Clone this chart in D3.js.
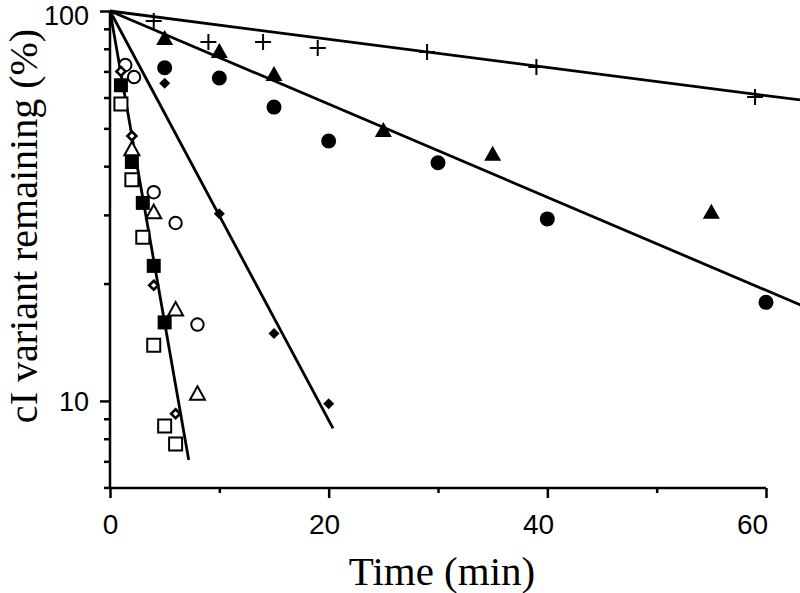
<!DOCTYPE html>
<html><head><meta charset="utf-8">
<script src="https://cdn.jsdelivr.net/npm/d3@7"></script>
<style>body{margin:0;background:#fff}svg{display:block}</style>
</head><body><svg id="c" width="800" height="593"></svg>
<script>
// ---- data (time in min, % remaining) ----
const plusT = [4, 9, 14, 19, 29, 39, 59];
const plusV = [94.3, 83.3, 83.3, 80.4, 78.5, 71.8, 60.2];
const triFillT = [5, 10, 15, 25, 35, 55];
const triFillV = [84.8, 78.5, 68.5, 49.2, 42.8, 30.4];
const circFillT = [5, 10, 15, 20, 30, 40, 60];
const circFillV = [71.5, 67.3, 56.7, 46.4, 40.8, 29.3, 17.9];
const diaFillT = [5, 10, 15, 20];
const diaFillV = [65.3, 30.2, 14.9, 9.83];
const sqOpenT = [1, 2, 3, 4, 5, 6];
const sqOpenV = [57.7, 36.9, 26.3, 13.9, 8.63, 7.76];
const sqFillT = [1, 2, 3, 4, 5];
const sqFillV = [64.5, 41.0, 32.2, 22.2, 15.9];
const triOpenT = [2, 4, 6, 8];
const triOpenV = [44.1, 30.4, 17.1, 10.4];
const circOpenT = [1.4, 2.2, 4, 6, 8];
const circOpenV = [72.7, 67.7, 34.3, 28.6, 15.7];
const diaSmallT = [1, 2, 4, 6];
const diaSmallV = [70, 47.8, 19.8, 9.27];
// fitted decay lines: [start, end] as [time, %]
const fitPlus = [[0, 100], [63.2, 59.1]];
const fitTri = [[0, 100], [63.2, 17.6]];
const fitDia = [[0, 100], [20.4, 8.5]];
const fitFast = [[0, 100], [7.2, 7.06]];
// ticks
const xMajor = [0, 20, 40, 60];
const xMinor = [10, 30, 50];
const yMajor = [10, 100];
const yMinor = [6, 7, 8, 9, 20, 30, 40, 50, 60, 70, 80, 90];
const xTitle = "Time (min)";
const yTitle = "cI variant remaining (%)";

const svg = d3.select("#c");
const x = d3.scaleLinear().domain([0, 60]).range([110, 766]);
const y = d3.scaleLog().domain([5.98, 100]).range([488, 11]);
const ink = "#000";

// axes
const gx = svg.append("g").attr("transform", `translate(0,${y(5.98)})`);
gx.call(d3.axisBottom(x).tickValues(xMajor).tickSize(10).tickFormat(d3.format("d")));
const gxm = svg.append("g").attr("transform", `translate(0,${y(5.98)})`);
gxm.call(d3.axisBottom(x).tickValues(xMinor).tickSize(5).tickFormat(""));
const gy = svg.append("g").attr("transform", `translate(${x(0)},0)`);
gy.call(d3.axisLeft(y).tickValues(yMajor).tickSize(10).tickFormat(d3.format("d")));
const gym = svg.append("g").attr("transform", `translate(${x(0)},0)`);
gym.call(d3.axisLeft(y).tickValues(yMinor).tickSize(6).tickFormat(""));
[gx, gxm, gy, gym].forEach(g => {
  g.select(".domain").attr("stroke", ink).attr("stroke-width", 2.5);
  g.selectAll(".tick line").attr("stroke", ink).attr("stroke-width", 2.5);
});
gxm.select(".domain").remove();
gym.select(".domain").remove();
gx.select(".domain").attr("d", `M${x(0)},0H${x(60)}`);
gy.select(".domain").attr("d", `M0,${y(100)}V${y(5.98)}`);
gx.selectAll(".tick text")
  .attr("font-family", "'Liberation Sans', Arial, sans-serif").attr("font-size", 28)
  .attr("fill", ink).attr("y", 26).attr("dy", "0.71em")
  .attr("dx", d => -(d / 60) * 14);
gy.selectAll(".tick text")
  .attr("font-family", "'Liberation Sans', Arial, sans-serif").attr("font-size", 27)
  .attr("fill", ink).attr("x", -21).attr("dy", d => d === 100 ? "0.5em" : "0.36em");

// titles
svg.append("text").attr("x", 442).attr("y", 585).attr("text-anchor", "middle")
  .attr("font-family", "'Liberation Serif', 'Times New Roman', serif").attr("font-size", 41)
  .attr("fill", ink).text(xTitle);
svg.append("text").attr("transform", "translate(37,226) rotate(-90)").attr("text-anchor", "middle")
  .attr("font-family", "'Liberation Serif', 'Times New Roman', serif").attr("font-size", 40)
  .attr("fill", ink).text(yTitle);

// fitted lines
const line = d3.line().x(d => x(d[0])).y(d => y(d[1]));
[fitPlus, fitTri, fitDia, fitFast].forEach(f => {
  svg.append("path").attr("d", line(f)).attr("fill", "none")
    .attr("stroke", ink).attr("stroke-width", 2.8);
});

// markers
const shapes = {
  plus: "M-8,0H8M0,-8V8",
  tri: "M0,-9L8.5,6L-8.5,6Z",
  triO: "M0,-8L7.5,5.5L-7.5,5.5Z",
  sq: "M-7,-7H7V7H-7Z",
  sqO: "M-6.5,-6.5H6.5V6.5H-6.5Z",
  dia: "M0,-5.5L5.5,0L0,5.5L-5.5,0Z",
  diaS: "M0,-4.5L4.5,0L0,4.5L-4.5,0Z"
};
function draw(T, V, kind) {
  const pts = T.map((t, i) => [t, V[i]]);
  const g = svg.append("g");
  if (kind === "circ" || kind === "circO") {
    g.selectAll("circle").data(pts).join("circle")
      .attr("cx", d => x(d[0])).attr("cy", d => y(d[1]))
      .attr("r", kind === "circ" ? 7.5 : 6.2)
      .attr("fill", kind === "circ" ? ink : "#fff")
      .attr("stroke", ink).attr("stroke-width", kind === "circ" ? 0 : 2);
  } else {
    const open = ["triO", "sqO", "diaS", "plus"].includes(kind);
    g.selectAll("path").data(pts).join("path")
      .attr("transform", d => `translate(${x(d[0])},${y(d[1])})`)
      .attr("d", shapes[kind])
      .attr("fill", kind === "plus" ? "none" : (open ? "#fff" : ink))
      .attr("stroke", ink).attr("stroke-width", open ? (kind === "diaS" ? 2.6 : 2) : 0);
  }
}
draw(sqOpenT, sqOpenV, "sqO");
draw(circOpenT, circOpenV, "circO");
draw(triOpenT, triOpenV, "triO");
draw(sqFillT, sqFillV, "sq");
draw(diaSmallT, diaSmallV, "diaS");
draw(diaFillT, diaFillV, "dia");
draw(circFillT, circFillV, "circ");
draw(triFillT, triFillV, "tri");
draw(plusT, plusV, "plus");
</script></body></html>
